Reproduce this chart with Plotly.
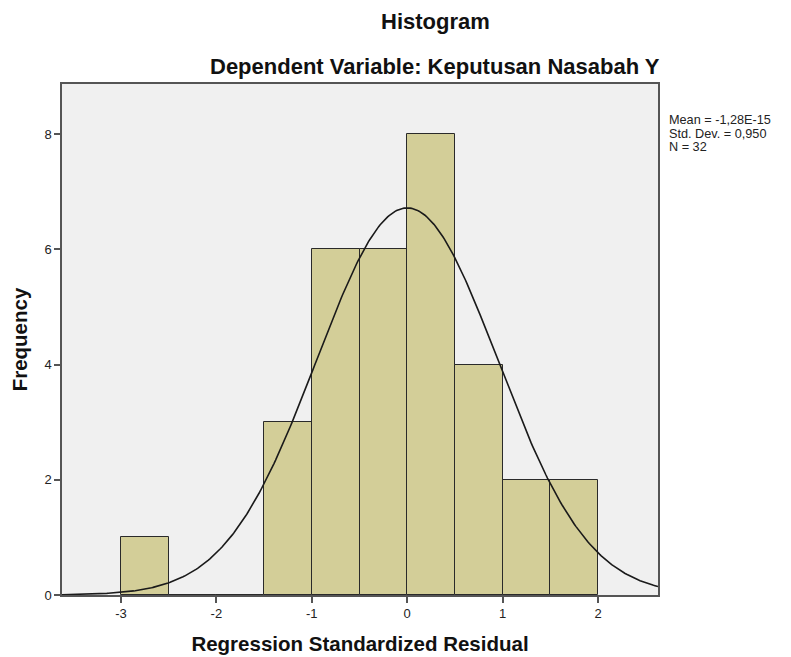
import numpy as np
import plotly.graph_objects as go

# Data
bin_starts = [-3.0, -2.5, -2.0, -1.5, -1.0, -0.5, 0.0, 0.5, 1.0, 1.5]
counts = [1, 0, 0, 3, 6, 6, 8, 4, 2, 2]
bin_width = 0.5
mean_val = -1.28e-15
sd_val = 0.950
n_val = 32
x_ticks = [-3, -2, -1, 0, 1, 2]
y_ticks = [0, 2, 4, 6, 8]
stats_lines = ["Mean = -1,28E-15", "Std. Dev. = 0,950", "N = 32"]

x_range = [-3.618, 2.628]
y_range = [0, 8.87]

centers = [s + bin_width / 2 for s in bin_starts]

xs = np.linspace(x_range[0], x_range[1], 400)
ys = n_val * bin_width * np.exp(-0.5 * ((xs - mean_val) / sd_val) ** 2) / (sd_val * np.sqrt(2 * np.pi))

fig = go.Figure()
fig.add_trace(go.Bar(
    x=centers, y=counts, width=bin_width,
    marker=dict(color="#d3ce98", line=dict(color="#2a2a2a", width=1)),
    hoverinfo="x+y", showlegend=False,
))
fig.add_trace(go.Scatter(
    x=xs, y=ys, mode="lines",
    line=dict(color="#1a1a1a", width=1.6),
    hoverinfo="skip", showlegend=False,
))

font_family = "Liberation Sans, Arial, sans-serif"

annotations = [
    dict(text="<b>Histogram</b>", xref="paper", yref="paper",
         x=(435 - 62) / 596, y=1 + (84 - 22) / 511, xanchor="center", yanchor="middle",
         showarrow=False, font=dict(size=22, color="#111")),
    dict(text="<b>Dependent Variable: Keputusan Nasabah Y</b>", xref="paper", yref="paper",
         x=(435 - 62) / 596, y=1 + (84 - 66) / 511, xanchor="center", yanchor="middle",
         showarrow=False, font=dict(size=22, color="#111")),
]
for i, line in enumerate(stats_lines):
    annotations.append(dict(
        text=line, xref="paper", yref="paper",
        x=(667 - 62) / 596, y=1 - (120 + 13.5 * i - 84) / 511, xanchor="left", yanchor="middle",
        align="left", showarrow=False, font=dict(size=12.7, color="#222")))

# page body has an 8px default margin; compensate so plot area lands at the reference pixels
fig.update_layout(
    width=783, height=649,
    margin=dict(l=54, r=133, t=76, b=62),
    paper_bgcolor="white",
    plot_bgcolor="#f0f0f0",
    font=dict(family=font_family, size=13, color="#222"),
    bargap=0,
    xaxis=dict(
        range=x_range, tickvals=x_ticks, ticktext=[str(v) for v in x_ticks],
        showgrid=False, zeroline=False, automargin=False,
        showline=True, linecolor="#555", linewidth=1.5, mirror=True,
        ticks="outside", ticklen=6, tickcolor="#555", tickwidth=1.5,
        tickfont=dict(size=13, color="#222"),
        title=dict(text="<b>Regression Standardized Residual</b>", font=dict(size=20.5, color="#111"), standoff=16),
    ),
    yaxis=dict(
        range=y_range, tickvals=y_ticks, ticktext=[str(v) for v in y_ticks],
        showgrid=False, zeroline=False, automargin=False,
        showline=True, linecolor="#555", linewidth=1.5, mirror=True,
        ticks="outside", ticklen=6, tickcolor="#555", tickwidth=1.5,
        tickfont=dict(size=13, color="#222"),
        title=dict(text="<b>Frequency</b>", font=dict(size=20.5, color="#111"), standoff=11),
    ),
    annotations=annotations,
)

fig.write_html("out.html")
